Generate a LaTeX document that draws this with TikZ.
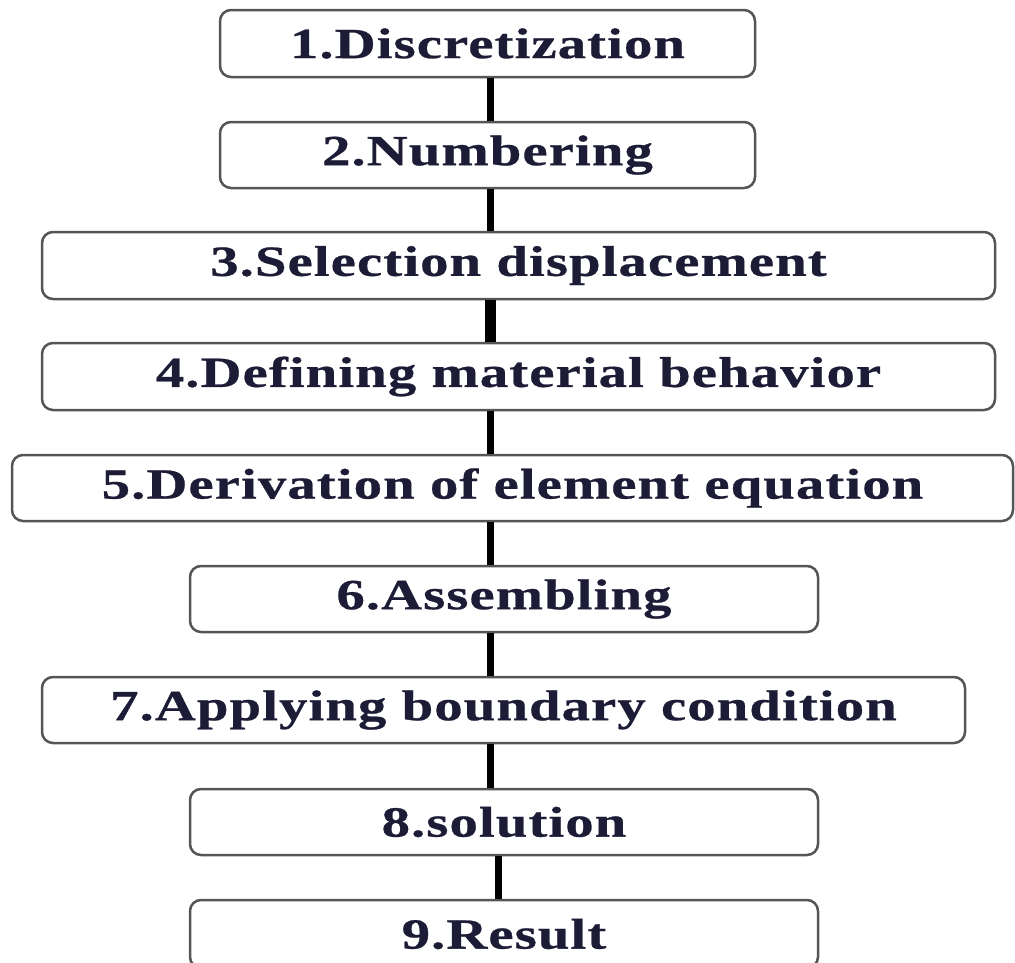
\documentclass[tikz,border=0pt]{standalone}
\usepackage{fontspec}
\setmainfont{Liberation Serif}[FakeStretch=1.32,LetterSpace=2.5,FakeBold=0.6]
\definecolor{txt}{RGB}{28,28,55}
\definecolor{edge}{RGB}{85,85,85}
\begin{document}
\begin{tikzpicture}[x=1pt,y=-1pt,
  stepbox/.style={draw=edge,line width=2.5pt,rounded corners=11pt,fill=white,
    text=txt,font=\fontsize{43}{47}\selectfont\bfseries,inner sep=0pt},
  link/.style={line width=7pt,draw=black}]
\useasboundingbox (0,0) rectangle (1015,962);
\coordinate (spine) at (490,0);
\coordinate (spineb) at (498,0);
\node[stepbox,minimum width=535pt,minimum height=67pt] (b1) at (487.5,43.5) {1.Discretization};
\node[stepbox,minimum width=535pt,minimum height=66pt] (b2) at (487.5,155) {2.Numbering};
\node[stepbox,minimum width=953pt,minimum height=67pt] (b3) at (518.5,265.5) {3.Selection displacement};
\node[stepbox,minimum width=953pt,minimum height=67pt] (b4) at (518.5,376.5) {4.Defining material behavior};
\node[stepbox,minimum width=1001pt,minimum height=66pt] (b5) at (512.5,488) {5.Derivation of element equation};
\node[stepbox,minimum width=628pt,minimum height=66pt] (b6) at (504,599) {6.Assembling};
\node[stepbox,minimum width=923pt,minimum height=66pt] (b7) at (503.5,710) {7.Applying boundary condition};
\node[stepbox,minimum width=628pt,minimum height=66pt] (b8) at (504,822) {8.solution};
\node[stepbox,minimum width=628pt,minimum height=68pt] (b9) at (504,934) {9.Result};
\draw[link] (b1.south -| spine) -- (b2.north -| spine);
\draw[link] (b2.south -| spine) -- (b3.north -| spine);
\draw[link,line width=11pt] (b3.south -| spine) -- (b4.north -| spine);
\draw[link] (b4.south -| spine) -- (b5.north -| spine);
\draw[link] (b5.south -| spine) -- (b6.north -| spine);
\draw[link] (b6.south -| spine) -- (b7.north -| spine);
\draw[link] (b7.south -| spine) -- (b8.north -| spine);
\draw[link] (b8.south -| spineb) -- (b9.north -| spineb);
\end{tikzpicture}
\end{document}
